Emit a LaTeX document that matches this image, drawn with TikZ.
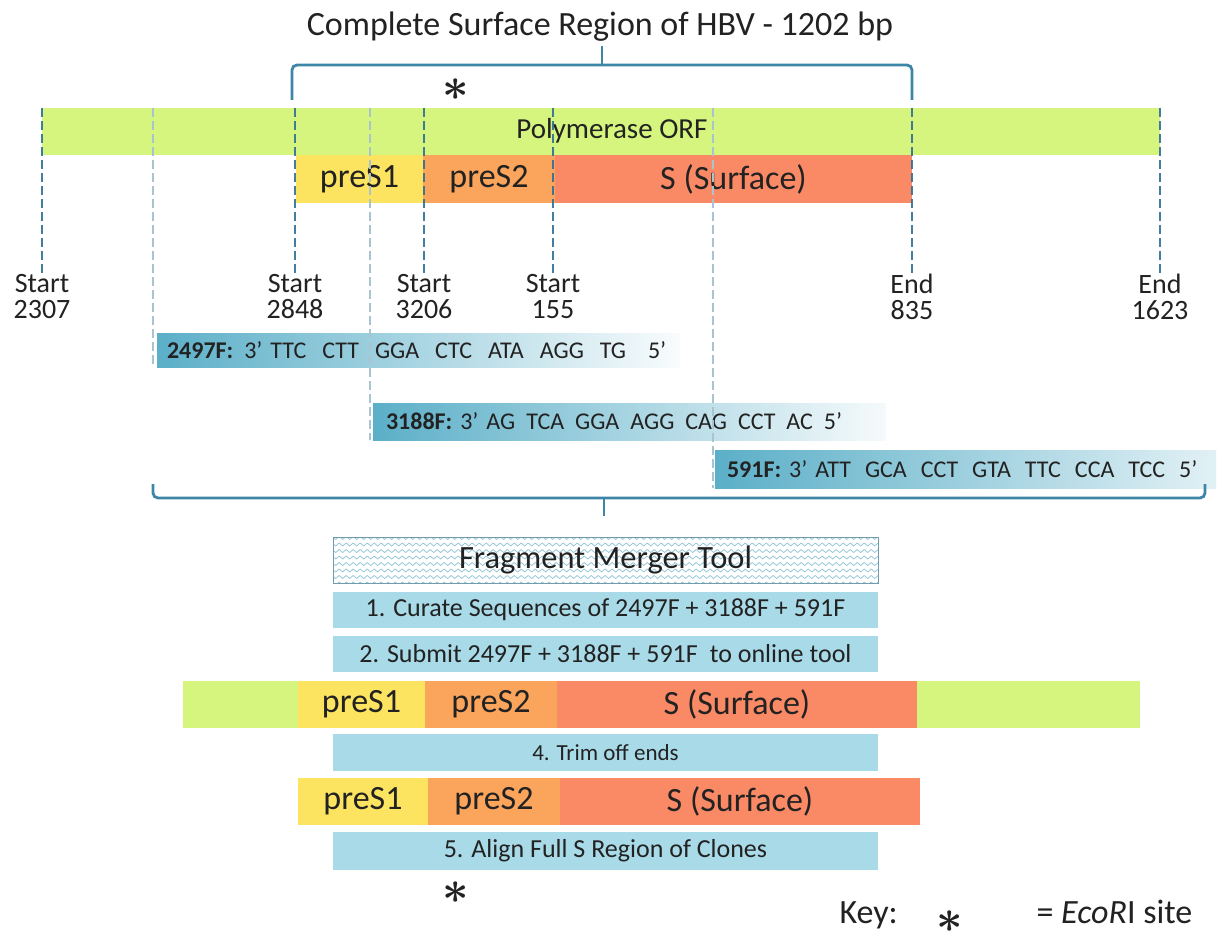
\documentclass[tikz,border=0pt]{standalone}
\usepackage{fontspec}
\setmainfont{Carlito}
\usetikzlibrary{decorations.pathmorphing}
\definecolor{orf}{HTML}{D6F57E}
\definecolor{ps1}{HTML}{FDE460}
\definecolor{ps2}{HTML}{FBA55C}
\definecolor{surf}{HTML}{FA8A66}
\definecolor{darkdash}{HTML}{2F6F95}
\definecolor{lightdash}{HTML}{A9C3CF}
\definecolor{bracec}{HTML}{3E86A8}
\definecolor{primer}{HTML}{5BAFC8}
\definecolor{stepc}{HTML}{A9DAE8}
\definecolor{wavec}{HTML}{8FC3D6}
\definecolor{txt}{HTML}{222222}
\newcommand{\fs}[1]{\fontsize{#1}{#1}\selectfont}
\newcommand{\gp}[1]{\hspace{#1pt}}
\newcommand{\astr}{\raisebox{-4pt}[18pt][0pt]{\scalebox{4.6}{\boldmath$\ast$}}}
\tikzset{
  seg/.style={anchor=north west,inner sep=0pt,outer sep=0pt,text=txt,font=\fs{34}},
  stepbox/.style={anchor=north west,inner sep=0pt,outer sep=0pt,fill=stepc,minimum width=545,text=txt,font=\fs{26}},
  primerbox/.style={anchor=north west,inner sep=0pt,outer sep=0pt,text=txt,font=\fs{24},text width=#1,align=left},
  poslab/.style={align=center,text=txt,font=\fontsize{28}{26}\selectfont,inner sep=0pt,anchor=north},
  darkd/.style={draw=darkdash,line width=2.2pt,dash pattern=on 9pt off 4pt,opacity=0.9},
  lightd/.style={draw=lightdash,line width=2pt,dash pattern=on 9pt off 4pt},
  bracel/.style={draw=bracec,line width=2.8pt,rounded corners=5pt},
  star/.style={text=txt,font=\normalsize,inner sep=0pt}
}
\begin{document}
\begin{tikzpicture}[x=1pt,y=-1pt]
\fill[white] (0,0) rectangle (1217,933);
\useasboundingbox (0,0) rectangle (1217,933);

% title and top brace
\node[text=txt,font=\fs{34}] (title) at (600,27) {Complete Surface Region of HBV - 1202 bp};
\draw[bracel] (292,100) -- (292,65) -- (912,65) -- (912,100);
\draw[bracel] (602,65) -- (602,46);
\node[star] (star1) at (456,88) {\astr};

% light dashed guide lines
\coordinate (g1) at (153,108);
\coordinate (g2) at (370,108);
\coordinate (g3) at (713,108);

% top bars
\node[seg,fill=orf,minimum width=1118,minimum height=47] (orf) at (42,108) {};
\node[text=txt,font=\fs{29}] (orft) at (612,131) {Polymerase ORF};
\node[seg,fill=ps1,minimum width=127,minimum height=48] (s1) at (296,155) {preS1};
\node[seg,fill=ps2,minimum width=132,minimum height=48] (s2) at (423,155) {preS2};
\node[seg,fill=surf,minimum width=357,minimum height=48] (s3) at (555,155) {S (Surface)};

% position labels
\node[poslab] (p2307) at (42,274) {Start\\2307};
\node[poslab] (p2848) at (295,274) {Start\\2848};
\node[poslab] (p3206) at (424,274) {Start\\3206};
\node[poslab] (p155) at (553,274) {Start\\155};
\node[poslab] (p835) at (912,274) {End\\835};
\node[poslab] (p1623) at (1160,274) {End\\1623};

% primer boxes
\node[primerbox=503,minimum width=513,minimum height=34,left color=primer,right color=primer!4,inner xsep=10pt] (f1) at (157,333)
  {\textbf{2497F:}\gp{3} 3’ TTC\gp{8} CTT\gp{8} GGA\gp{8} CTC\gp{8} ATA\gp{8} AGG\gp{8} TG\gp{14} 5’};
\node[primerbox=487,minimum width=500,minimum height=37,left color=primer,right color=primer!6,inner xsep=13pt] (f2) at (373,403)
  {\textbf{3188F:} 3’ AG\gp{3} TCA\gp{3} GGA\gp{3} AGG\gp{3} CAG\gp{3} CCT\gp{3} AC\gp{3} 5’};
\node[primerbox=477,minimum width=487,minimum height=38,left color=primer,right color=primer!18,inner xsep=12pt] (f3) at (715,450)
  {\textbf{591F:} 3’ ATT\gp{6} GCA\gp{6} CCT\gp{6} GTA\gp{6} TTC\gp{6} CCA\gp{6} TCC\gp{6} 5’};

% dashed lines
\draw[lightd] (g1) -- (f1.south west -| g1);
\draw[lightd] (g2) -- (f2.south west -| g2);
\draw[lightd] (g3) -- (f3.south west -| g3);
\draw[darkd] (orf.north west) -- (p2307.north);
\draw[darkd] (p2848.north |- orf.north) -- (p2848.north);
\draw[darkd] (p3206.north |- orf.north) -- (p3206.north);
\draw[darkd] (p155.north |- orf.north) -- (p155.north);
\draw[darkd] (p835.north |- orf.north) -- (p835.north);
\draw[darkd] (orf.north east) -- (p1623.north);

% lower brace
\draw[bracel] (153,484) -- (153,498) -- (1205,498) -- (1205,484);
\draw[bracel] (604,498) -- (604,516);

% fragment merger tool box
\node[anchor=north west,inner sep=0pt,outer sep=0pt,minimum width=545,minimum height=46] (fmt) at (333,537) {};
\begin{scope}
  \clip (fmt.north west) rectangle (fmt.south east);
  \foreach \yy in {538,544.5,...,590} {
    \draw[wavec,line width=0.7pt,decorate,decoration={snake,amplitude=1.5pt,segment length=7pt}] (330,\yy) -- (882,\yy);
  }
\end{scope}
\draw[wavec!80!black,line width=1pt] (fmt.north west) rectangle (fmt.south east);
\node[text=txt,font=\fs{32.5}] (fmtt) at (fmt.center) {Fragment Merger Tool};

\node[stepbox,minimum height=36] (b1) at (333,592) {1. Curate Sequences of 2497F + 3188F + 591F};
\node[stepbox,minimum height=36] (b2) at (333,636) {2. Submit 2497F + 3188F + 591F\gp{12}to online tool};

% merged row
\node[seg,fill=orf,minimum width=115,minimum height=47] (m0) at (183,681) {};
\node[seg,fill=ps1,minimum width=127,minimum height=47] (m1) at (298,681) {preS1};
\node[seg,fill=ps2,minimum width=132,minimum height=47] (m2) at (425,681) {preS2};
\node[seg,fill=surf,minimum width=360,minimum height=47] (m3) at (557,681) {S (Surface)};
\node[seg,fill=orf,minimum width=223,minimum height=47] (m4) at (917,681) {};

\node[stepbox,minimum height=37,font=\fs{23}] (b4) at (333,734) {4. Trim off ends};

% trimmed row
\node[seg,fill=ps1,minimum width=130,minimum height=47] (t1) at (298,778) {preS1};
\node[seg,fill=ps2,minimum width=132,minimum height=47] (t2) at (428,778) {preS2};
\node[seg,fill=surf,minimum width=360,minimum height=47] (t3) at (560,778) {S (Surface)};

\node[stepbox,minimum height=38] (b5) at (333,832) {5. Align Full S Region of Clones};
\node[star] (star2) at (456,890) {\astr};

% key
\node[text=txt,font=\fs{34},anchor=base west] (key) at (836,923) {Key:};
\node[star] (star3) at (950,919) {\astr};
\node[text=txt,font=\fs{34},anchor=base west] (keyt) at (1033,923) {= \textit{EcoR}I site};
\end{tikzpicture}
\end{document}
